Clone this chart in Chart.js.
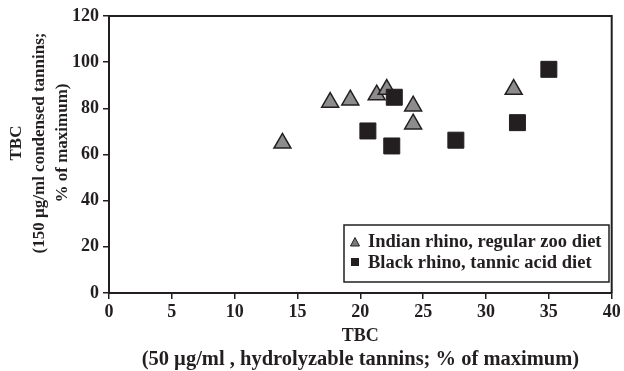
<!DOCTYPE html>
<html>
<head>
<meta charset="utf-8">
<script src="https://cdn.jsdelivr.net/npm/chart.js@4"></script>
<style>
  html, body { margin: 0; padding: 0; background: #fff; }
  #wrap { width: 624px; height: 371px; }
</style>
</head>
<body>
<div id="wrap"><canvas id="chart" width="624" height="371"></canvas></div>
<script>
const indianX = [13.8, 17.6, 19.2, 21.3, 22.1, 24.2, 24.2, 32.2];
const indianY = [64.9, 82.6, 83.6, 85.8, 88.2, 81.0, 73.2, 88.2];
const blackX = [35.0, 22.7, 20.6, 22.5, 27.6, 32.5];
const blackY = [96.9, 84.8, 70.2, 63.7, 66.2, 73.8];
const seriesNames = ["Indian rhino, regular zoo diet", "Black rhino, tannic acid diet"];
const xTitle = "TBC";
const xSubTitle = "(50 µg/ml , hydrolyzable tannins; % of maximum)";
const yTitle = ["TBC", "(150 µg/ml condensed tannins;", "% of maximum)"];

const ink = "#231f20";
const serif = "'Liberation Serif', 'Times New Roman', serif";

const toPoints = (xs, ys) => xs.map((x, i) => ({ x, y: ys[i] }));

// frame, axis title lines and the legend box inside the plot
const decor = {
  id: "decor",
  afterDraw(chart) {
    const { ctx, chartArea: a } = chart;
    ctx.save();
    ctx.strokeStyle = ink;
    ctx.lineWidth = 2;
    ctx.beginPath();
    ctx.moveTo(a.left, a.top);
    ctx.lineTo(a.right, a.top);
    ctx.lineTo(a.right, a.bottom);
    ctx.stroke();

    ctx.fillStyle = ink;
    ctx.textAlign = "center";
    ctx.textBaseline = "middle";
    ctx.font = "bold 20.5px " + serif;
    ctx.fillText(xSubTitle, (a.left + a.right) / 2, 360);

    // y title, rotated, a bit above the plot's middle like the original
    ctx.save();
    ctx.translate(0, 143);
    ctx.rotate(-Math.PI / 2);
    ctx.font = "bold 17px " + serif;
    yTitle.forEach((t, i) => ctx.fillText(t, 0, 17 + i * 23));
    ctx.restore();

    const bx = 344, by = 225, bw = 265, bh = 57;
    ctx.lineWidth = 1.5;
    ctx.strokeRect(bx, by, bw, bh);
    ctx.textAlign = "left";
    ctx.font = "bold 18.5px " + serif;

    ctx.beginPath();
    ctx.moveTo(355, 237.5);
    ctx.lineTo(359.5, 246);
    ctx.lineTo(350.5, 246);
    ctx.closePath();
    ctx.fillStyle = "#7a7a7a";
    ctx.fill();
    ctx.lineWidth = 1;
    ctx.stroke();
    ctx.fillStyle = ink;
    ctx.fillRect(351, 258, 8, 8);

    ctx.fillText(seriesNames[0], 368, 242);
    ctx.fillText(seriesNames[1], 368, 263);
    ctx.restore();
  }
};

new Chart(document.getElementById("chart"), {
  type: "scatter",
  data: {
    datasets: [
      {
        label: seriesNames[0],
        data: toPoints(indianX, indianY),
        pointStyle: "triangle",
        pointRadius: 9.8,
        backgroundColor: "#8c8c8c",
        borderColor: ink,
        borderWidth: 1.5,
        order: 2
      },
      {
        label: seriesNames[1],
        data: toPoints(blackX, blackY),
        pointStyle: "rect",
        pointRadius: 11.3,
        backgroundColor: ink,
        borderColor: ink,
        borderWidth: 1,
        order: 1
      }
    ]
  },
  options: {
    responsive: false,
    animation: false,
    layout: { padding: { top: 16, right: 10, left: 0, bottom: 0 } },
    plugins: { legend: { display: false }, tooltip: { enabled: false } },
    scales: {
      x: {
        min: 0, max: 40,
        ticks: { stepSize: 5, color: ink, padding: 3, maxRotation: 0, font: { family: serif, size: 18, weight: "bold" } },
        grid: { drawOnChartArea: false, color: ink, tickLength: 6, lineWidth: 1.5 },
        border: { color: ink, width: 2 },
        title: { display: true, text: xTitle, color: ink, padding: { top: 0, bottom: 23 }, font: { family: serif, size: 18, weight: "bold", lineHeight: 1.35 } },
        afterFit(s) { s.height = 78; }
      },
      y: {
        min: 0, max: 120,
        ticks: { stepSize: 20, color: ink, padding: 4, font: { family: serif, size: 18, weight: "bold" } },
        grid: { drawOnChartArea: false, color: ink, tickLength: 6, lineWidth: 1.5 },
        border: { color: ink, width: 2 },
        afterFit(s) { s.width = 109; }
      }
    }
  },
  plugins: [decor]
});
</script>
</body>
</html>
